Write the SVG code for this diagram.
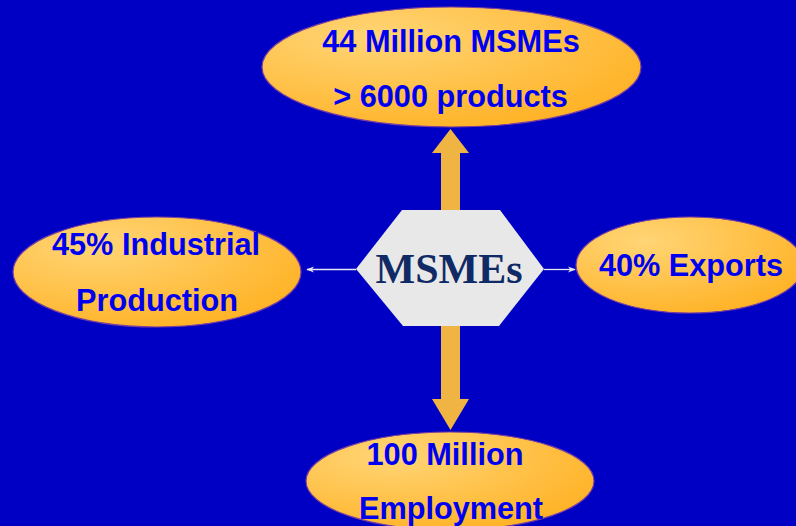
<svg xmlns="http://www.w3.org/2000/svg" width="796" height="526" viewBox="0 0 796 526">
<defs>
<radialGradient id="og" cx="0.3" cy="0.25" r="0.9">
<stop offset="0" stop-color="#FFD576"/>
<stop offset="1" stop-color="#FFAF1E"/>
</radialGradient>
<marker id="ah" viewBox="0 0 10 10" refX="9" refY="5" markerWidth="8" markerHeight="8" markerUnits="userSpaceOnUse" orient="auto">
<path d="M0,1 L10,5 L0,9 L3,5 Z" fill="#E6E6F0"/>
</marker>
<style>
.oval{fill:url(#og);stroke:#7A3FA0;stroke-width:1.2}
.lbl{font-family:"Liberation Sans",Arial,sans-serif;font-weight:bold;font-size:30.7px;fill:#0000F0;text-anchor:middle}
.big{fill:#EFB441}
.thin{stroke:#E6E6F0;stroke-width:1.3;fill:none}
</style>
</defs>
<rect width="796" height="526" fill="#0000C4"/>
<g id="connectors">
<path class="big" d="M441,210 L441,153 L432,153 L450.5,129 L469,153 L460,153 L460,210 Z"/>
<path class="big" d="M441,326 L441,399 L432,399 L450.5,430 L469,399 L460,399 L460,326 Z"/>
<line class="thin" x1="356" y1="269.5" x2="307" y2="269.5" marker-end="url(#ah)"/>
<line class="thin" x1="544" y1="269.5" x2="575" y2="269.5" marker-end="url(#ah)"/>
</g>
<g id="center">
<polygon points="402,210 500,210 544,269 499,326 403,326 356,269" fill="#E8E8E8"/>
<text x="449" y="283" font-family="Liberation Serif,Times New Roman,serif" font-weight="bold" font-size="42" fill="#102A66" text-anchor="middle">MSMEs</text>
</g>
<g id="top">
<ellipse class="oval" cx="451.5" cy="67" rx="189.5" ry="60"/>
<text class="lbl" x="451" y="52">44 Million MSMEs</text>
<text class="lbl" x="450.5" y="107">&gt; 6000 products</text>
</g>
<g id="left">
<ellipse class="oval" cx="157" cy="272" rx="144" ry="55"/>
<text class="lbl" x="156" y="255">45% Industrial</text>
<text class="lbl" x="157" y="311">Production</text>
</g>
<g id="right">
<ellipse class="oval" cx="690" cy="265" rx="114" ry="48"/>
<text class="lbl" x="691" y="276">40% Exports</text>
</g>
<g id="bottom">
<ellipse class="oval" cx="450" cy="481" rx="144" ry="49"/>
<text class="lbl" x="445" y="465">100 Million</text>
<text class="lbl" x="451" y="519">Employment</text>
</g>
</svg>
